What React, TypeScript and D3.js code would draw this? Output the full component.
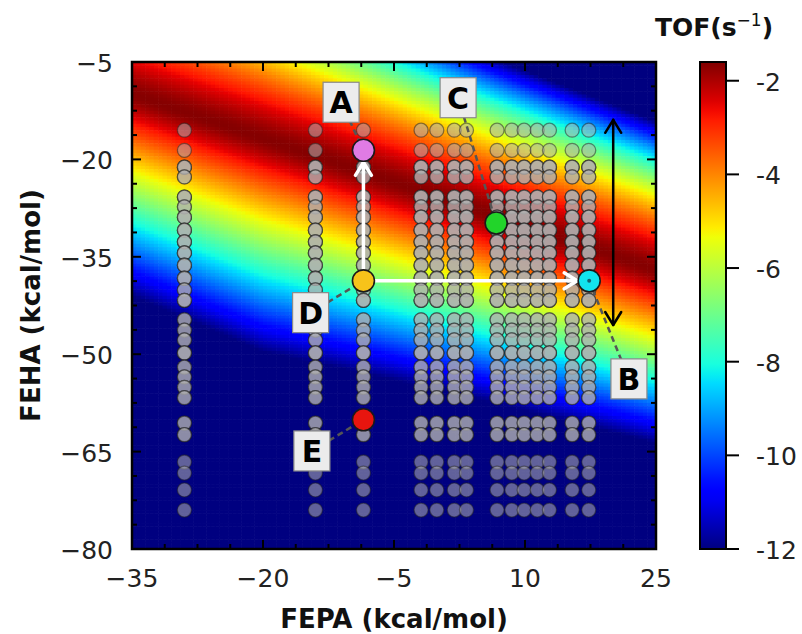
import React, { useMemo } from "react";
import * as d3 from "d3";

// ---------- data ----------
const xTicks = [-35, -20, -5, 10, 25];
const yTicks = [-5, -20, -35, -50, -65, -80];
const cbTicks = [-2, -4, -6, -8, -10, -12];

// FEPA of the catalyst columns
const columnFEPA = [-29.0, -14.0, -8.5, -1.9, -0.1, 1.9, 3.3, 6.8, 8.5, 9.9, 11.4, 12.8, 15.4, 17.3];
// FEHA levels and how many catalysts sit at each level in a column
const rowFEHA = [-15.5, -18.6, -21.2, -22.7, -25.8, -27.3, -28.9, -30.9, -32.7, -34.4, -36.3, -38.3, -40.1, -41.7, -44.7, -46.3, -47.8, -49.8, -52.0, -53.5, -55.1, -56.7, -60.6, -62.4, -66.6, -68.3, -70.9, -74.0];
const rowCount = [1, 1, 3, 2, 3, 2, 3, 3, 3, 3, 3, 3, 2, 3, 2, 2, 2, 3, 2, 2, 2, 2, 2, 2, 1, 1, 1, 1];

// highlighted catalysts
const highlightNames = ["A", "C", "D", "E", "B"];
const highlightFEPA = [-8.5, 6.7, -8.5, -8.5, 17.35];
const highlightFEHA = [-18.6, -29.8, -38.7, -60.1, -38.7];
const highlightColor = ["#e07be4", "#22d42a", "#f7c31a", "#e8150f", "#12e3ee"];

// label boxes (FEPA, FEHA of box centre)
const labelFEPA = [-11.06, 2.34, -14.55, -14.4, 21.9];
const labelFEHA = [-11.2, -10.5, -43.6, -64.9, -53.8];

// TOF surface (volcano ridge)
const ridgeFEPA = [-35, -20, 25];
const ridgeFEHA = [-10, -16.8, -37];
const steepFEPA = [-35, -20, 0, 25];
const steepAbove = [1.0, 1.0, 1.15, 1.3];
const slopeBelow = [0.35, 0.33, 0.41];
const peakTOF = -1.65;

const cbMin = -12;
const cbMax = -1.6;

// ---------- layout ----------
const W = 802, H = 634;
const L = 132, R = 656, T = 62, B = 549;
const CBX = 700, CBW = 26;

const rS = d3.scaleLinear().domain([0, 0.35, 0.66, 0.89, 1]).range([0, 0, 1, 1, 0.5]).clamp(true);
const gS = d3.scaleLinear().domain([0, 0.125, 0.375, 0.64, 0.91, 1]).range([0, 0, 1, 1, 0, 0]).clamp(true);
const bS = d3.scaleLinear().domain([0, 0.11, 0.34, 0.65, 1]).range([0.5, 1, 1, 0, 0]).clamp(true);
function jet(t: number) {
  const c = d3.rgb(rS(t) * 255, gS(t) * 255, bS(t) * 255);
  return c.formatHex();
}

export default function App() {
  const x = d3.scaleLinear().domain([-35, 25]).range([L, R]);
  const y = d3.scaleLinear().domain([-5, -80]).range([T, B]);
  const cb = d3.scaleLinear().domain([cbMin, cbMax]).range([B, T]);
  const tNorm = d3.scaleLinear().domain([cbMin, cbMax]).range([0, 1]).clamp(true);

  const ridge = d3.scaleLinear().domain(ridgeFEPA).range(ridgeFEHA);
  const mUp = d3.scaleLinear().domain(steepFEPA).range(steepAbove);
  const sDn = d3.scaleLinear().domain(ridgeFEPA).range(slopeBelow);

  const cells = useMemo(() => {
    const out: { x0: number; y0: number; c: string }[] = [];
    const step = 0.5;
    for (let fx = -35; fx < 25; fx += step) {
      for (let fy = -5; fy > -80; fy -= step) {
        const cx = fx + step / 2, cy = fy - step / 2;
        const d = cy - ridge(cx);
        const c0 = 1.5;
        const ad = Math.sqrt(d * d + c0 * c0) - c0;
        const drop = d > 0 ? mUp(cx) * (0.2 * ad + 0.008 * ad * ad) : sDn(cx) * ad;
        const v = peakTOF - drop;
        out.push({ x0: fx, y0: fy, c: jet(tNorm(v)) });
      }
    }
    return out;
  }, []);

  const cellW = x(0.5) - x(0);
  const cellH = y(-0.5) - y(0);

  // points
  const pts: { fx: number; fy: number; k: string }[] = [];
  columnFEPA.forEach((cx, i) => {
    rowFEHA.forEach((ry, j) => {
      for (let n = 0; n < rowCount[j]; n++) pts.push({ fx: cx, fy: ry, k: `${i}-${j}-${n}` });
    });
  });

  // minor ticks
  const minorX = d3.range(-35, 25.001, 3.75);
  const minorY = d3.range(-5, -80.001, -3.75);

  const gradStops = d3.range(0, 1.0001, 0.02);

  const hp = (i: number) => [x(highlightFEPA[i]), y(highlightFEHA[i])];
  const [ax, ay] = hp(0);
  const [dx, dy] = hp(2);
  const [bx, by] = hp(4);
  const hr = 11;

  const chevron = (tx: number, ty: number, dirx: number, diry: number, len: number, half: number) => {
    const px = -diry, py = dirx;
    const bx0 = tx - dirx * len, by0 = ty - diry * len;
    return `M${bx0 + px * half},${by0 + py * half}L${tx},${ty}L${bx0 - px * half},${by0 - py * half}`;
  };

  const bArrowX = x(20.1);
  const bTop = y(-13.9);
  const bBot = y(-45.5);

  return (
    <svg width={W} height={H} style={{ position: "absolute", left: 0, top: 0, background: "#fff" }} fontFamily="DejaVu Sans">
      <defs>
        <linearGradient id="cbg" x1="0" y1="1" x2="0" y2="0">
          {gradStops.map((t) => (
            <stop key={t} offset={t} stopColor={jet(t)} />
          ))}
        </linearGradient>
        <clipPath id="plotclip">
          <rect x={L} y={T} width={R - L} height={B - T} />
        </clipPath>
      </defs>

      {/* heatmap */}
      <g clipPath="url(#plotclip)">
        {cells.map((c, i) => (
          <rect key={i} x={x(c.x0)} y={y(c.y0)} width={cellW + 0.6} height={cellH + 0.6} fill={c.c} />
        ))}
      </g>

      {/* grey catalysts */}
      <g>
        {pts.map((p) => (
          <circle key={p.k} cx={x(p.fx)} cy={y(p.fy)} r={7} fill="#b0b0b0" fillOpacity={0.55} stroke="#222" strokeOpacity={0.5} strokeWidth={1.3} />
        ))}
      </g>

      {/* leader lines */}
      <g stroke="#555" strokeWidth={2.5} strokeDasharray="6 4" fill="none">
        {highlightNames.map((n, i) => (
          <line key={n} x1={x(labelFEPA[i])} y1={y(labelFEHA[i])} x2={x(highlightFEPA[i])} y2={y(highlightFEHA[i])} />
        ))}
      </g>

      {/* white arrows */}
      <g stroke="#fff" strokeWidth={3.5} fill="none" strokeLinecap="round" strokeLinejoin="round">
        <line x1={dx} y1={dy - hr} x2={ax} y2={ay + hr + 1} />
        <path d={chevron(ax, ay + hr + 1, 0, -1, 13, 8)} />
        <line x1={dx + hr} y1={dy} x2={bx - hr - 1} y2={by} />
        <path d={chevron(bx - hr - 1, by, 1, 0, 13, 8)} />
      </g>

      {/* highlighted catalysts */}
      {highlightNames.map((n, i) => (
        <circle key={n} cx={x(highlightFEPA[i])} cy={y(highlightFEHA[i])} r={hr} fill={highlightColor[i]} stroke="#1a1a1a" strokeWidth={1.6} />
      ))}
      <circle cx={bx} cy={by} r={2} fill="#156070" />

      {/* black double arrow */}
      <g stroke="#000" strokeWidth={2.5} fill="none" strokeLinecap="round" strokeLinejoin="round">
        <line x1={bArrowX} y1={bTop} x2={bArrowX} y2={bBot} />
        <path d={chevron(bArrowX, bTop, 0, -1, 13, 8)} />
        <path d={chevron(bArrowX, bBot, 0, 1, 13, 8)} />
      </g>

      {/* label boxes */}
      {highlightNames.map((n, i) => {
        const cx = x(labelFEPA[i]), cy = y(labelFEHA[i]);
        return (
          <g key={n}>
            <rect x={cx - 18} y={cy - 20} width={36} height={40} fill="#ececec" stroke="#8a8a8a" strokeWidth={1.2} />
            <text x={cx} y={cy + 11} textAnchor="middle" fontSize={30} fontWeight="bold" fill="#000">{n}</text>
          </g>
        );
      })}

      {/* frame ticks */}
      <g stroke="#000" strokeWidth={2}>
        {minorX.map((v) => {
          const major = xTicks.includes(Math.round(v * 100) / 100);
          const len = major ? 9 : 5;
          return (
            <g key={`mx${v}`}>
              <line x1={x(v)} x2={x(v)} y1={B} y2={B - len} />
              <line x1={x(v)} x2={x(v)} y1={T} y2={T + len} />
            </g>
          );
        })}
        {minorY.map((v) => {
          const major = yTicks.includes(Math.round(v * 100) / 100);
          const len = major ? 9 : 5;
          return (
            <g key={`my${v}`}>
              <line x1={L} x2={L + len} y1={y(v)} y2={y(v)} />
              <line x1={R} x2={R - len} y1={y(v)} y2={y(v)} />
            </g>
          );
        })}
      </g>
      <rect x={L} y={T} width={R - L} height={B - T} fill="none" stroke="#000" strokeWidth={2.5} />

      {/* axis tick labels */}
      <g fontSize={25} fill="#222">
        {xTicks.map((v) => (
          <text key={`xt${v}`} x={x(v)} y={587} textAnchor="middle">{v < 0 ? `\u2212${-v}` : v}</text>
        ))}
        {yTicks.map((v) => (
          <text key={`yt${v}`} x={113} y={y(v) + 10} textAnchor="end">{`\u2212${-v}`}</text>
        ))}
      </g>

      {/* axis titles */}
      <text x={394} y={628} textAnchor="middle" fontSize={26} fontWeight="bold" fill="#111">FEPA (kcal/mol)</text>
      <text transform={`translate(40,${(T + B) / 2}) rotate(-90)`} textAnchor="middle" fontSize={26} fontWeight="bold" fill="#111">FEHA (kcal/mol)</text>

      {/* colorbar */}
      <rect x={CBX} y={T} width={CBW} height={B - T} fill="url(#cbg)" stroke="#000" strokeWidth={2} />
      <g stroke="#000" strokeWidth={2}>
        {cbTicks.map((v) => (
          <line key={`cbt${v}`} x1={CBX + CBW} x2={CBX + CBW + 13} y1={cb(v)} y2={cb(v)} />
        ))}
      </g>
      <g fontSize={25} fill="#222">
        {cbTicks.map((v) => (
          <text key={`cbl${v}`} x={756} y={cb(v) + 10}>{`-${-v}`}</text>
        ))}
      </g>
      <text x={714} y={36} textAnchor="middle" fontSize={25} fontWeight="bold" fill="#111">
        TOF(s<tspan dy={-10} fontSize={17} fontWeight="normal">{"\u22121"}</tspan><tspan dy={10}>)</tspan>
      </text>
    </svg>
  );
}
